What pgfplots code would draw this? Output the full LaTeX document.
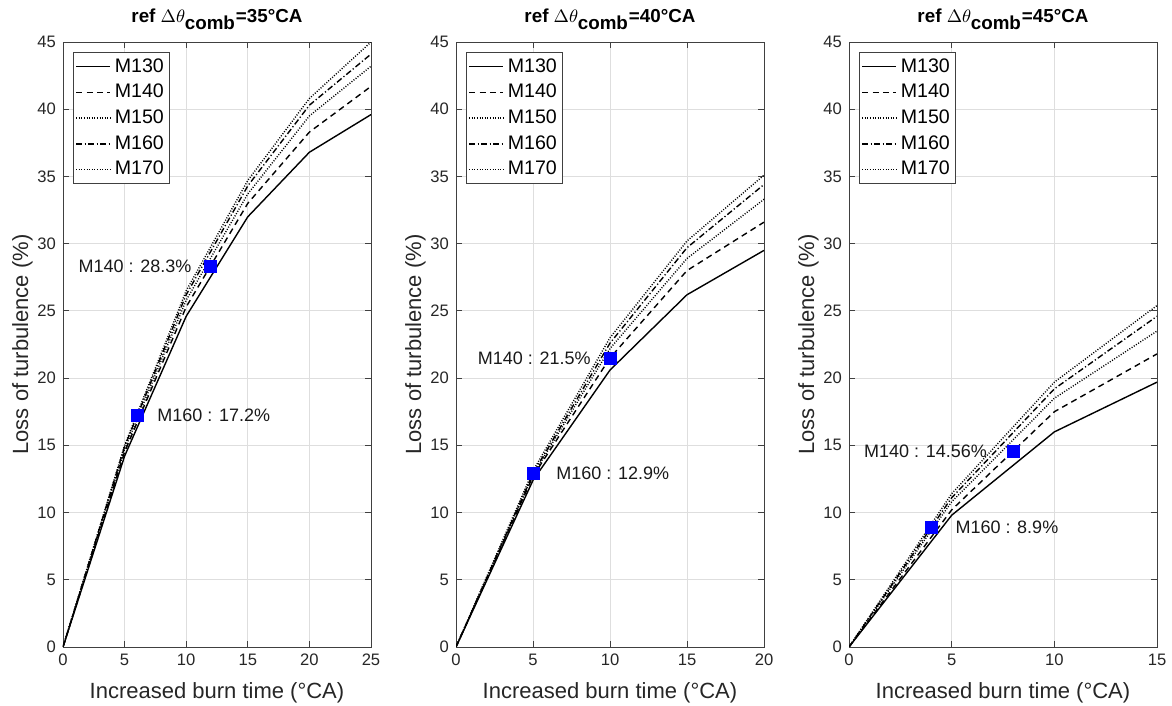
\documentclass[border=0pt]{standalone}
\usepackage{fontspec}
\setmainfont{Liberation Sans}
\usepackage{pgfplots}
\pgfplotsset{compat=1.18}
\definecolor{mblue}{RGB}{0,0,255}
\tikzset{lab/.style={inner sep=0pt, font=\fontsize{9}{11}\selectfont, text=black!90}}
\pgfplotsset{
 myax/.style={
  scale only axis, width=154pt, height=302.5pt,
  anchor=south west,
  ymin=0, ymax=45, ytick={0,5,...,45}, xmin=0,
  grid=major, major grid style={black!13, line width=0.4pt},
  axis line style={black!75, line width=0.45pt},
  tick style={black!75, line width=0.45pt}, tick align=inside, major tick length=3pt,
  tick pos=both, xticklabel pos=bottom, yticklabel pos=left,
  tick label style={font=\fontsize{8.3}{10}\selectfont, text=black!85},
  /pgf/number format/assume math mode=true,
  label style={font=\fontsize{11}{13}\selectfont, text=black!85},
  xlabel style={yshift=-1.5pt},
  ylabel style={yshift=-4.5pt},
  xlabel={Increased burn time (°CA)}, ylabel={Loss of turbulence (\%)},
  title style={font=\bfseries\fontsize{9.4}{11}\selectfont, yshift=-3.5pt},
  legend style={at={(0,1)}, anchor=north west, xshift=5pt, yshift=-5pt,
    font=\fontsize{9.8}{12}\selectfont, draw=black!75, line width=0.4pt,
    inner xsep=1pt, inner ysep=1pt, row sep=0.5pt},
  legend cell align=left,
  legend image code/.code={\draw[##1] (0pt,0pt) -- (17pt,0pt);},
 },
 s130/.style={black, line width=0.7pt, solid},
 s140/.style={black, line width=0.7pt, dash pattern=on 3pt off 2.2pt},
 s150/.style={black, line width=0.7pt, dash pattern=on 0.5pt off 0.8pt},
 s160/.style={black, line width=0.7pt, dash pattern=on 3pt off 1.2pt on 0.6pt off 1.2pt},
 s170/.style={black, line width=0.7pt, dash pattern=on 0.5pt off 0.8pt},
 mk/.style={only marks, mark=square*, mark size=3pt, mark options={draw=mblue, fill=mblue}},
}
\begin{document}
\begin{tikzpicture}
\path[use as bounding box] (-31.5pt,-29.5pt) rectangle (554.5pt,323.5pt);
% Panel 1
\begin{axis}[myax, at={(0pt,0pt)}, xmax=25, xtick={0,5,...,25},
  title={ref $\Delta\theta_{\textbf{comb}}$=35°CA}]
\addplot[s130] coordinates {(0,0) (5,14.2) (10,24.6) (15,32.0) (20,36.8) (25,39.6)};
\addplot[s140] coordinates {(0,0) (5,14.5) (10,25.3) (15,33.0) (20,38.3) (25,41.7)};
\addplot[s150] coordinates {(0,0) (5,14.7) (10,25.8) (15,33.7) (20,39.5) (25,43.2)};
\addplot[s160] coordinates {(0,0) (5,14.9) (10,26.2) (15,34.3) (20,40.3) (25,44.1)};
\addplot[s170] coordinates {(0,0) (5,15.0) (10,26.5) (15,34.7) (20,40.8) (25,45.0)};
\legend{M130,M140,M150,M160,M170}
\addplot[mk, forget plot] coordinates {(12,28.3) (6,17.2)};
\node[lab, anchor=east, xshift=-9.5pt] at (axis cs:12,28.3) {M140 : 28.3\%};
\node[lab, anchor=west, xshift=10pt] at (axis cs:6,17.2) {M160 : 17.2\%};
\end{axis}
% Panel 2
\begin{axis}[myax, at={(196.5pt,0pt)}, xmax=20, xtick={0,5,...,20},
  title={ref $\Delta\theta_{\textbf{comb}}$=40°CA}]
\addplot[s130] coordinates {(0,0) (5,12.4) (10,20.6) (15,26.2) (20,29.5)};
\addplot[s140] coordinates {(0,0) (5,12.7) (10,21.5) (15,28.0) (20,31.6)};
\addplot[s150] coordinates {(0,0) (5,12.8) (10,22.2) (15,28.9) (20,33.3)};
\addplot[s160] coordinates {(0,0) (5,12.9) (10,22.6) (15,29.7) (20,34.4)};
\addplot[s170] coordinates {(0,0) (5,13.1) (10,23.0) (15,30.2) (20,35.1)};
\legend{M130,M140,M150,M160,M170}
\addplot[mk, forget plot] coordinates {(10,21.5) (5,12.9)};
\node[lab, anchor=east, xshift=-9.5pt] at (axis cs:10,21.5) {M140 : 21.5\%};
\node[lab, anchor=west, xshift=11.5pt] at (axis cs:5,12.9) {M160 : 12.9\%};
\end{axis}
% Panel 3
\begin{axis}[myax, at={(393pt,0pt)}, xmax=15, xtick={0,5,...,15},
  title={ref $\Delta\theta_{\textbf{comb}}$=45°CA}]
\addplot[s130] coordinates {(0,0) (5,9.8) (10,16.0) (15,19.7)};
\addplot[s140] coordinates {(0,0) (5,10.2) (10,17.5) (15,21.8)};
\addplot[s150] coordinates {(0,0) (5,10.8) (10,18.5) (15,23.5)};
\addplot[s160] coordinates {(0,0) (5,11.1) (10,19.2) (15,24.6)};
\addplot[s170] coordinates {(0,0) (5,11.4) (10,19.7) (15,25.4)};
\legend{M130,M140,M150,M160,M170}
\addplot[mk, forget plot] coordinates {(8,14.56) (4,8.9)};
\node[lab, anchor=east, xshift=-13pt] at (axis cs:8,14.56) {M140 : 14.56\%};
\node[lab, anchor=west, xshift=12pt] at (axis cs:4,8.9) {M160 : 8.9\%};
\end{axis}
\end{tikzpicture}
\end{document}
